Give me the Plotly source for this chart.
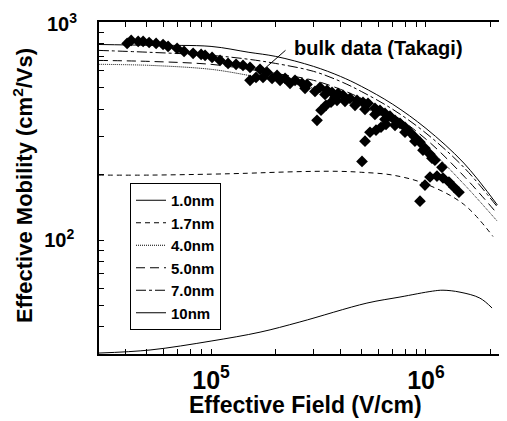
import math
import plotly.graph_objects as go

# ---------------- data ----------------
E_curve = [3.0e4, 5.2e4, 1.0e5, 1.5e5, 2.0e5, 3.0e5, 4.0e5, 5.0e5, 7.0e5, 1.0e6, 1.5e6, 2.15e6]

mu_10nm = [792, 785, 776, 729, 698, 628, 565, 509, 421, 326, 226, 145]
mu_7nm = [744, 729, 706, 677, 648, 596, 536, 482, 399, 310, 216, 142]
mu_5nm = [669, 662, 642, 609, 583, 542, 493, 448, 378, 291, 197, 132]
mu_4nm = [642, 635, 609, 571, 542, 498, 453, 412, 351, 270, 181, 122]

E_17 = [3.0e4, 5.2e4, 1.0e5, 1.5e5, 2.0e5, 3.0e5, 4.0e5, 5.0e5, 7.0e5, 1.0e6, 1.5e6, 2.05e6]
mu_17nm = [199, 199, 201, 203, 205, 207, 207, 205, 199, 181, 146, 104]

E_10 = [3.0e4, 5.2e4, 1.0e5, 1.69e5, 2.59e5, 5.31e5, 7.57e5, 1.07e6, 1.2e6, 1.44e6, 1.78e6, 2.03e6]
mu_10 = [30.3, 31.3, 34.4, 37.8, 42.1, 51.4, 54.8, 58.3, 58.9, 57.7, 54.2, 48.8]

# bulk data (Takagi) - diamonds
E_bulk_main = [4.07e4, 4.25e4, 4.58e4, 4.83e4, 5.15e4, 5.55e4, 5.98e4, 6.31e4, 6.95e4, 7.49e4,
               8.25e4, 8.99e4, 9.38e4, 1.011e5, 1.101e5, 1.20e5, 1.307e5, 1.408e5, 1.518e5, 1.69e5,
               1.822e5, 2.028e5, 2.21e5, 2.459e5, 2.65e5, 2.796e5, 3.214e5, 3.464e5, 3.655e5, 3.897e5,
               4.111e5, 4.432e5, 4.777e5, 5.093e5, 5.373e5, 5.79e5, 6.11e5, 6.446e5, 6.801e5, 7.176e5,
               7.57e5, 7.988e5, 8.424e5, 8.887e5, 9.378e5, 9.893e5, 1.044e6, 1.101e6, 1.187e6]
mu_bulk_main = [801, 827, 818, 818, 809, 801, 792, 776, 760, 736,
                721, 713, 706, 691, 669, 648, 642, 635, 622, 609,
                590, 571, 553, 542, 525, 519, 503, 488, 477, 472,
                463, 448, 439, 430, 425, 403, 395, 382, 371, 355,
                344, 330, 313, 297, 282, 264, 248, 233, 216]

E_bulk_row2 = [2.737e5, 3.046e5, 3.39e5, 3.773e5, 4.201e5, 4.676e5, 5.203e5, 5.79e5, 6.446e5,
               7.176e5, 7.988e5, 8.887e5, 9.683e5, 1.066e6]
mu_bulk_row2 = [498, 482, 467, 453, 434, 416, 399, 378, 359, 337, 313, 285, 259, 238]

E_bulk_b1 = [1.518e5, 1.619e5, 1.745e5, 1.922e5, 2.094e5, 2.33e5]
mu_bulk_b1 = [542, 559, 559, 553, 542, 525]

E_bulk_b2 = [3.112e5, 3.248e5, 3.426e5, 3.615e5, 3.855e5]
mu_bulk_b2 = [355, 395, 416, 430, 439]

E_bulk_b3 = [5.039e5, 5.203e5, 5.489e5, 5.854e5, 6.176e5, 6.516e5]
mu_bulk_b3 = [230, 285, 313, 320, 330, 340]

E_bulk_b4 = [9.378e5, 9.893e5, 1.044e6, 1.125e6, 1.20e6, 1.279e6, 1.35e6, 1.424e6]
mu_bulk_b4 = [151, 179, 195, 197, 193, 185, 175, 166]

labels = ["1.0nm", "1.7nm", "4.0nm", "5.0nm", "7.0nm", "10nm"]
y_tick_vals = [100, 1000]
y_tick_text = ["<b>10<sup>2</sup></b>", ""]
y_top_label = "<b>10<sup>3</sup></b>"

# ---------------- figure ----------------
FONT = "Liberation Sans, Arial, Helvetica, sans-serif"
fig = go.Figure()

curves = [
    (E_10, mu_10, labels[0], "solid"),
    (E_17, mu_17nm, labels[1], "5px,4px"),
    (E_curve, mu_4nm, labels[2], "1px,1px"),
    (E_curve, mu_5nm, labels[3], "9px,5px"),
    (E_curve, mu_7nm, labels[4], "10px,3px,3px,3px"),
    (E_curve, mu_10nm, labels[5], "solid"),
]
for ex, mu, name, dash in curves:
    fig.add_trace(go.Scatter(x=ex, y=mu, mode="lines", name=name, line_shape="spline",
                             line=dict(color="black", width=1, dash=dash)))

for ex, mu in [(E_bulk_main, mu_bulk_main), (E_bulk_row2, mu_bulk_row2), (E_bulk_b1, mu_bulk_b1),
               (E_bulk_b2, mu_bulk_b2), (E_bulk_b3, mu_bulk_b3), (E_bulk_b4, mu_bulk_b4)]:
    fig.add_trace(go.Scatter(x=ex, y=mu, mode="markers", showlegend=False,
                             marker=dict(symbol="diamond", size=9, color="black",
                                         line=dict(width=0))))

# page body has an 8px margin: figure is sized/offset to compensate
W, H = 499, 413
ML, MT, MB = 91, 14, 67
PW, PH = W - ML, H - MT - MB


def px(xw):
    return (xw - 8 - ML) / PW


def py(yw):
    return (H - MB - (yw - 8)) / PH


fig.update_layout(
    width=W, height=H,
    margin=dict(l=ML, r=0, t=MT, b=MB, autoexpand=False),
    paper_bgcolor="white", plot_bgcolor="white",
    font=dict(family=FONT, color="black", weight="bold"),
    showlegend=True,
    legend=dict(x=px(130), y=py(183), xanchor="left", yanchor="top",
                bordercolor="black", borderwidth=1, bgcolor="white",
                font=dict(family=FONT, size=15, color="black", weight="bold"),
                tracegroupgap=0, itemwidth=30),
    xaxis=dict(type="log", range=[math.log10(3.01e4), 6.377], dtick=1,
               exponentformat="power", showgrid=False, zeroline=False,
               showline=True, linecolor="black", linewidth=1.5, mirror="ticks",
               ticks="inside", ticklen=5, tickcolor="black", tickwidth=1,
               tickfont=dict(family=FONT, size=20, color="black", weight="bold"),
               ticklabelstandoff=4, ticklabeloverflow="allow",
               minor=dict(dtick="D1", ticks="inside", ticklen=5, tickcolor="black", tickwidth=1)),
    yaxis=dict(type="log", range=[math.log10(30), 3.002],
               tickmode="array", tickvals=y_tick_vals, ticktext=y_tick_text,
               showgrid=False, zeroline=False,
               showline=True, linecolor="black", linewidth=1.5, mirror=False,
               ticks="inside", ticklen=5, tickcolor="black", tickwidth=1,
               tickfont=dict(family=FONT, size=20, color="black", weight="bold"),
               ticklabelstandoff=19, ticklabeloverflow="allow",
               minor=dict(dtick="D1", ticks="inside", ticklen=5, tickcolor="black", tickwidth=1)),
    annotations=[
        dict(text=y_top_label, xref="paper", yref="paper", x=px(79), y=py(8),
             xanchor="right", yanchor="top", showarrow=False,
             font=dict(family=FONT, size=20, color="black", weight="bold")),
        dict(text="Effective Field (V/cm)", xref="paper", yref="paper", x=px(305), y=py(405),
             xanchor="center", yanchor="middle", showarrow=False,
             font=dict(family=FONT, size=23, color="black", weight="bold")),
        dict(text="Effective Mobility (cm<sup>2</sup>/Vs)", xref="paper", yref="paper",
             x=px(23), y=py(186), xanchor="center", yanchor="middle", textangle=-90,
             showarrow=False, font=dict(family=FONT, size=22, color="black", weight="bold")),
        dict(text="bulk data (Takagi)", xref="paper", yref="paper", x=px(292), y=py(48),
             xanchor="left", yanchor="middle", showarrow=False,
             font=dict(family=FONT, size=20, color="black", weight="bold")),
        dict(text="", xref="paper", yref="paper", x=px(263), y=py(70),
             showarrow=True, arrowhead=0, arrowwidth=1, arrowcolor="black",
             ax=24, ay=-21, standoff=0, startstandoff=0),
    ],
)

fig.write_html("out.html")
